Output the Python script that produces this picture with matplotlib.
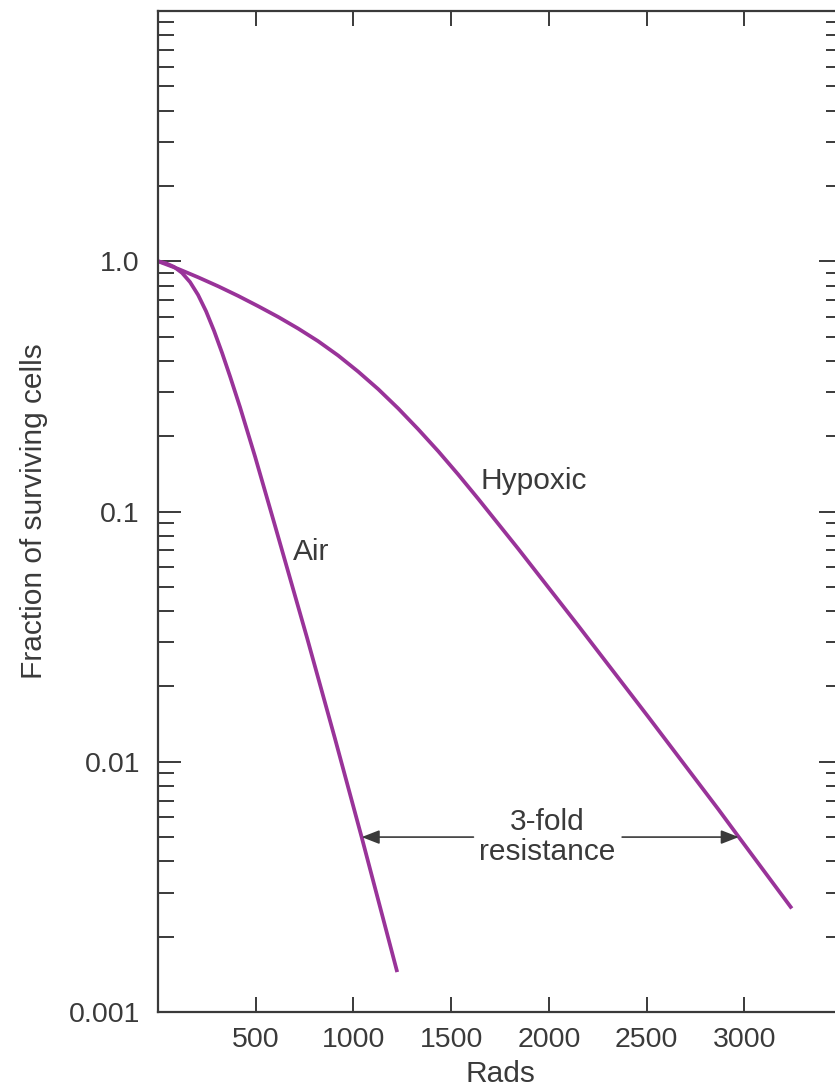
import matplotlib
matplotlib.use("Agg")
import matplotlib.pyplot as plt
from matplotlib.ticker import FixedLocator, FixedFormatter, LogLocator, NullFormatter, NullLocator

# Survival curves (dose in rads, surviving fraction)
air_dose = [0, 41, 82, 123, 164, 205, 246, 287, 328, 369, 420, 497, 599, 763, 906, 1042, 1224]
air_frac = [1.0, 0.9817, 0.9497, 0.8986, 0.8256, 0.7338, 0.6310, 0.5267, 0.4301, 0.3461,
            0.2608, 0.1654, 0.0876, 0.03122, 0.01234, 0.005, 0.001444]

hypoxic_dose = [0, 103, 205, 308, 410, 512, 615, 717, 819, 922, 1024, 1127, 1229, 1331,
                1434, 1536, 1638, 1843, 2150, 2508, 2867, 2972, 3243]
hypoxic_frac = [1.0, 0.9324, 0.8630, 0.7943, 0.7272, 0.6617, 0.5991, 0.5385, 0.4795, 0.4200,
                0.3624, 0.3082, 0.2582, 0.2133, 0.1741, 0.1406, 0.1125, 0.0710, 0.0350,
                0.01514, 0.00646, 0.005, 0.002593]

# Axis ticks
x_ticks = [500, 1000, 1500, 2000, 2500, 3000]
x_tick_labels = ["500", "1000", "1500", "2000", "2500", "3000"]
y_ticks = [0.001, 0.01, 0.1, 1.0]
y_tick_labels = ["0.001", "0.01", "0.1", "1.0"]

# Iso-effect level used for the resistance comparison
iso_level = 0.005
air_dose_at_iso = 1042
hypoxic_dose_at_iso = 2972

CURVE = "#993399"
INK = "#3a3a3a"
FONT = "Liberation Sans"

fig = plt.figure(figsize=(8.35, 10.91), dpi=100)
W, H = 835, 1091
left, right, top, bottom = 158, 842, 11, 1012
ax = fig.add_axes([left / W, (H - bottom) / H, (right - left) / W, (bottom - top) / H])

ax.set_yscale("log")
ax.set_xlim(0, 3500)
ax.set_ylim(0.001, 10)

ax.plot(air_dose, air_frac, color=CURVE, lw=2.7, solid_capstyle="butt", solid_joinstyle="round")
ax.plot(hypoxic_dose, hypoxic_frac, color=CURVE, lw=2.7, solid_capstyle="butt", solid_joinstyle="round")

for s in ax.spines.values():
    s.set_color(INK)
    s.set_linewidth(1.6)

ax.xaxis.set_major_locator(FixedLocator(x_ticks))
ax.xaxis.set_major_formatter(FixedFormatter(x_tick_labels))
ax.xaxis.set_minor_locator(NullLocator())
ax.yaxis.set_major_locator(FixedLocator(y_ticks))
ax.yaxis.set_major_formatter(FixedFormatter(y_tick_labels))
ax.yaxis.set_minor_locator(LogLocator(base=10, subs=[2, 3, 4, 5, 6, 7, 8, 9], numticks=20))
ax.yaxis.set_minor_formatter(NullFormatter())

ax.tick_params(axis="x", which="major", direction="in", length=10.5, width=1.4,
               color=INK, top=True, bottom=True, pad=11, labelsize=20.5, labelcolor=INK)
ax.tick_params(axis="y", which="major", direction="in", length=16.5, width=1.4,
               color=INK, left=True, right=True, pad=13, labelsize=20.5, labelcolor=INK)
ax.tick_params(axis="y", which="minor", direction="in", length=11.5, width=1.4,
               color=INK, left=True, right=True)
for lab in ax.get_xticklabels() + ax.get_yticklabels():
    lab.set_fontfamily(FONT)

ax.set_xlabel("Rads", fontsize=21.5, family=FONT, color=INK, labelpad=5)
ax.set_ylabel("Fraction of surviving cells", fontsize=21.5, family=FONT, color=INK, labelpad=15)

ax.text(691, 0.069, "Air", fontsize=21.5, family=FONT, color=INK, ha="left", va="center")
ax.text(1648, 0.133, "Hypoxic", fontsize=21.5, family=FONT, color=INK, ha="left", va="center")
ax.text(1991, iso_level, "3-fold\nresistance", fontsize=21.5, family=FONT, color=INK,
        ha="center", va="center", linespacing=1.1)

arrow_kw = dict(arrowstyle="-|>,head_length=0.9,head_width=0.35", color=INK, lw=1.2,
                shrinkA=0, shrinkB=0, mutation_scale=12)
ax.annotate("", xy=(air_dose_at_iso, iso_level), xytext=(1614, iso_level), arrowprops=arrow_kw)
ax.annotate("", xy=(hypoxic_dose_at_iso, iso_level), xytext=(2375, iso_level), arrowprops=arrow_kw)

fig.savefig("out.png", dpi=100)
